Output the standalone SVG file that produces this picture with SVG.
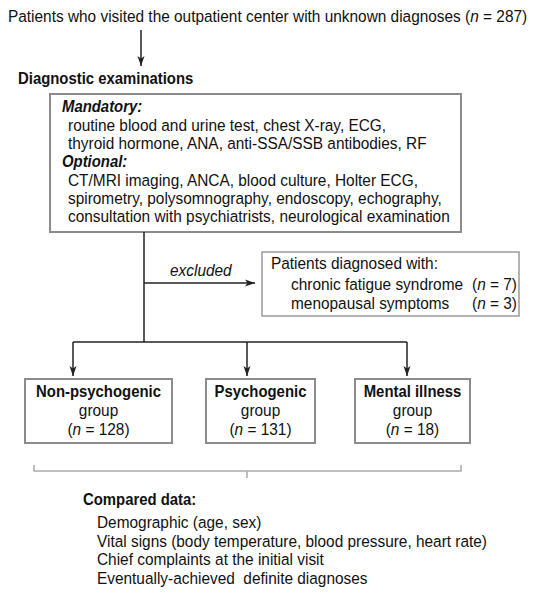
<svg xmlns="http://www.w3.org/2000/svg" width="538" height="598" viewBox="0 0 538 598">
<defs>
<marker id="ah" viewBox="0 0 10 8" refX="10" refY="4" markerWidth="10" markerHeight="8" markerUnits="userSpaceOnUse" orient="auto">
<path d="M0,0.5 L10,4 L0,7.5 L2.5,4 Z" fill="#222"/>
</marker>
<style>
text{font-family:"Liberation Sans",Arial,sans-serif;font-size:16.8px;fill:#111}
.b{font-weight:bold}
.bi{font-weight:bold;font-style:italic}
.i{font-style:italic}
.m{text-anchor:middle}
.box{fill:#fff;stroke:#8c8c8c;stroke-width:2}
.box2{fill:#fff;stroke:#999;stroke-width:1.5}
.ln{fill:none;stroke:#222;stroke-width:1.5}
.br{fill:none;stroke:#aaa;stroke-width:1.5}
</style>
</defs>
<g id="start">
<text transform="translate(8,22) scale(0.917,1)">Patients who visited the outpatient center with unknown diagnoses (<tspan class="i">n</tspan> = 287)</text>
</g>
<g id="exam-title">
<text transform="translate(18,84) scale(0.887,1)" class="b">Diagnostic examinations</text>
</g>
<g id="exam">
<rect class="box" x="50" y="94" width="411" height="138"/>
<text transform="translate(62,112) scale(0.887,1)" class="bi">Mandatory:</text>
<text transform="translate(68,130.5) scale(0.917,1)">routine blood and urine test, chest X-ray, ECG,</text>
<text transform="translate(68,148.5) scale(0.917,1)">thyroid hormone, ANA, anti-SSA/SSB antibodies, RF</text>
<text transform="translate(62,167) scale(0.887,1)" class="bi">Optional:</text>
<text transform="translate(68,185.5) scale(0.917,1)">CT/MRI imaging, ANCA, blood culture, Holter ECG,</text>
<text transform="translate(68,203.5) scale(0.917,1)">spirometry, polysomnography, endoscopy, echography,</text>
<text transform="translate(68,222) scale(0.917,1)">consultation with psychiatrists, neurological examination</text>
</g>
<g id="excluded">
<rect class="box2" x="262" y="252" width="257" height="64"/>
<text transform="translate(271,269) scale(0.917,1)">Patients diagnosed with:</text>
<text transform="translate(291,289.5) scale(0.917,1)">chronic fatigue syndrome</text>
<text transform="translate(472,289.5) scale(0.917,1)">(<tspan class="i">n</tspan> = 7)</text>
<text transform="translate(291,308.5) scale(0.917,1)">menopausal symptoms</text>
<text transform="translate(472,308.5) scale(0.917,1)">(<tspan class="i">n</tspan> = 3)</text>
</g>
<g id="nonpsy">
<rect class="box" x="25" y="379" width="147" height="64"/>
<text transform="translate(98.5,397) scale(0.887,1)" class="b m">Non-psychogenic</text>
<text transform="translate(98.5,416) scale(0.917,1)" class="m">group</text>
<text transform="translate(98.5,435) scale(0.917,1)" class="m">(<tspan class="i">n</tspan> = 128)</text>
</g>
<g id="psy">
<rect class="box" x="206" y="379" width="109" height="64"/>
<text transform="translate(260.5,397) scale(0.887,1)" class="b m">Psychogenic</text>
<text transform="translate(260.5,416) scale(0.917,1)" class="m">group</text>
<text transform="translate(260.5,435) scale(0.917,1)" class="m">(<tspan class="i">n</tspan> = 131)</text>
</g>
<g id="mental">
<rect class="box" x="355" y="379" width="115" height="64"/>
<text transform="translate(412.5,397) scale(0.887,1)" class="b m">Mental illness</text>
<text transform="translate(412.5,416) scale(0.917,1)" class="m">group</text>
<text transform="translate(412.5,435) scale(0.917,1)" class="m">(<tspan class="i">n</tspan> = 18)</text>
</g>
<g id="compared">
<text transform="translate(83,505) scale(0.887,1)" class="b">Compared data:</text>
<text transform="translate(97,528) scale(0.917,1)">Demographic (age, sex)</text>
<text transform="translate(97,546.5) scale(0.917,1)">Vital signs (body temperature, blood pressure, heart rate)</text>
<text transform="translate(97,565) scale(0.917,1)">Chief complaints at the initial visit</text>
<text transform="translate(97,583.5) scale(0.917,1)">Eventually-achieved&#160; definite diagnoses</text>
</g>
<g id="connectors">
<path class="ln" d="M141,30 V66" marker-end="url(#ah)"/>
<path class="ln" d="M144,232 V342"/>
<path class="ln" d="M144,283 H255" marker-end="url(#ah)"/>
<path class="ln" d="M73,342 H407"/>
<path class="ln" d="M73,342 V376" marker-end="url(#ah)"/>
<path class="ln" d="M247,342 V376" marker-end="url(#ah)"/>
<path class="ln" d="M407,342 V376" marker-end="url(#ah)"/>
<path class="br" d="M34,465 V471 H461 V465 M247,471 V478"/>
<text transform="translate(170,276) scale(0.917,1)" class="i">excluded</text>
</g>
</svg>
